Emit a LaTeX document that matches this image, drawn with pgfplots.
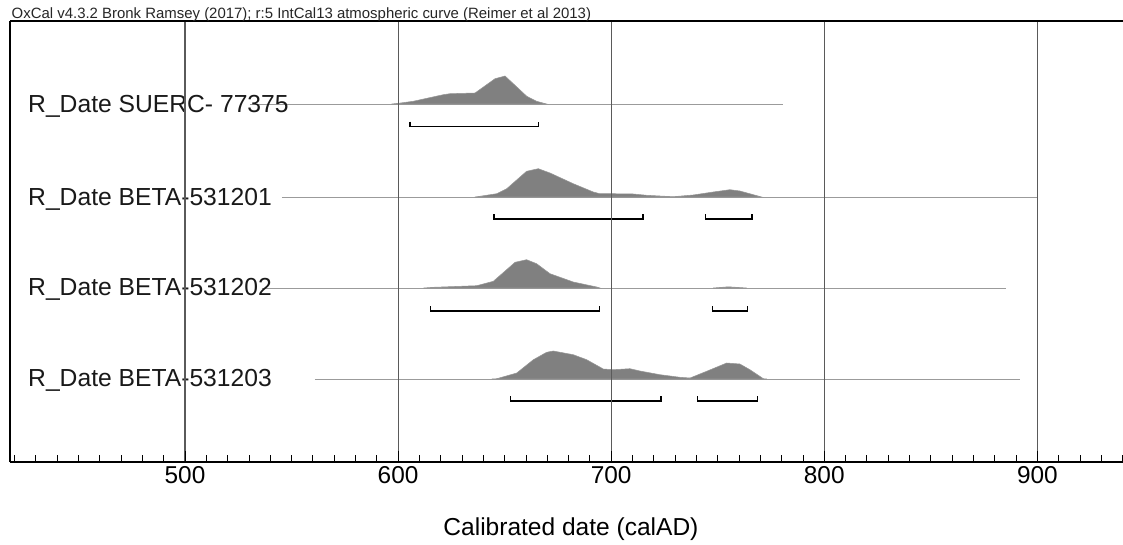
\documentclass[border=0pt]{standalone}
\usepackage{fontspec}
\setmainfont{Liberation Sans}
\usepackage{pgfplots}
\pgfplotsset{compat=1.18}
\definecolor{distfill}{RGB}{128,128,128}
\definecolor{distedge}{RGB}{150,150,150}
\definecolor{baseln}{RGB}{155,155,155}
\definecolor{gridc}{RGB}{90,90,90}

\begin{document}
\begin{tikzpicture}
\begin{axis}[
  scale only axis,
  width=834.75pt, height=330.75pt,
  xmin=417.88, xmax=940.2,
  ymin=0, ymax=441,
  axis x line=box, axis y line=left,
  axis line style={-, line width=1.2pt, black},
  xtick={500,600,700,800,900},
  minor xtick={420,430,...,940},
  ytick=\empty,
  xtick pos=bottom,
  tick align=inside,
  major tick length=8pt, minor tick length=5pt,
  every tick/.style={black, line width=0.6pt},
  xmajorgrids,
  major grid style={gridc, line width=0.8pt},
  axis on top,
  /pgf/number format/assume math mode=true,
  xticklabel style={font=\fontsize{18.3}{20}\selectfont, inner sep=0pt, yshift=-3pt},
  xlabel={Calibrated date (calAD)},
  xlabel style={font=\fontsize{18.4}{20}\selectfont, at={(rel axis cs:0.504,0)}, anchor=base, inner sep=0pt, yshift=-54.75pt},
  clip=false,
]
% baselines
\addplot[baseln, line width=0.7pt] coordinates {(530.5,358) (780.6,358)};
\addplot[baseln, line width=0.7pt] coordinates {(545.5,265) (900.3,265)};
\addplot[baseln, line width=0.7pt] coordinates {(536,174) (885.3,174)};
\addplot[baseln, line width=0.7pt] coordinates {(561,83) (891.8,83)};

% SUERC-77375
\addplot[fill=distfill, draw=distedge, line width=0.4pt] coordinates {
  (597,358) (600.1,358.7) (607.1,360.7) (621.2,367.3) (624.4,368.3) (636.1,369)
  (645.5,383.3) (650.2,386) (660.4,365.7) (665.0,360.7) (669.7,358)} -- cycle;
% BETA-531201
\addplot[fill=distfill, draw=distedge, line width=0.4pt] coordinates {
  (636,265) (638.4,265.7) (646.3,268.3) (651.0,273.3) (660.3,290.7) (665.8,293.3)
  (671.3,289) (682.2,278.3) (691.6,270) (694.7,268.3) (700.2,268.3) (710.4,268)
  (716.7,266.7) (729.1,265.3) (738.5,267) (747.9,270) (755.7,272.3) (760.4,271)
  (766.7,267.3) (770.6,265)} -- cycle;
% BETA-531202
\addplot[fill=distfill, draw=distedge, line width=0.4pt] coordinates {
  (612,174) (616.5,174.7) (636.9,176.3) (644.7,180.7) (654.9,199.7) (660.3,202.3)
  (665.0,198.3) (671.3,188.3) (682.2,180) (693.2,175) (694.7,174)} -- cycle;
\addplot[fill=distfill, draw=distedge, line width=0.4pt] coordinates {
  (747.9,174) (755,175.2) (763.6,174)} -- cycle;
% BETA-531203
\addplot[fill=distfill, draw=distedge, line width=0.4pt] coordinates {
  (644,83) (646.3,83.3) (655.7,89) (663.5,102.3) (669.7,109.7) (672.8,111)
  (682.2,107.3) (688.5,102.3) (696.3,93) (701.0,92.3) (708.8,93.3) (713.5,91)
  (722.9,87.3) (732.3,84.7) (737.0,84) (744.8,90.7) (754.2,99) (760.4,98)
  (765.1,92.3) (771.4,83.3) (773,83)} -- cycle;

% ranges
\addplot[black, line width=1.1pt] coordinates {(605.6,340.5) (605.6,335.5) (665.8,335.5) (665.8,340.5)};
\addplot[black, line width=1.1pt] coordinates {(645.0,248) (645.0,243) (714.9,243) (714.9,248)};
\addplot[black, line width=1.1pt] coordinates {(744.3,248) (744.3,243) (766.1,243) (766.1,248)};
\addplot[black, line width=1.1pt] coordinates {(615.3,156) (615.3,151) (694.4,151) (694.4,156)};
\addplot[black, line width=1.1pt] coordinates {(747.6,156) (747.6,151) (763.9,151) (763.9,156)};
\addplot[black, line width=1.1pt] coordinates {(652.8,66) (652.8,61) (723.4,61) (723.4,66)};
\addplot[black, line width=1.1pt] coordinates {(740.4,66) (740.4,61) (768.6,61) (768.6,66)};

% labels
\begin{scope}[every node/.style={anchor=base west, inner sep=0pt, font=\fontsize{18.5}{20}\selectfont, text=black!90}]
\node at (axis cs:426.3,349.3) {R\_Date SUERC- 77375};
\node at (axis cs:426.3,257) {R\_Date BETA-531201};
\node at (axis cs:426.3,167) {R\_Date BETA-531202};
\node at (axis cs:426.3,75.3) {R\_Date BETA-531203};
\end{scope}
\end{axis}
\node[anchor=base west, inner sep=0pt, font=\fontsize{11.2}{13}\selectfont, text=black!85] at (1.1pt,332.6pt)
  {OxCal v4.3.2 Bronk Ramsey (2017); r:5 IntCal13 atmospheric curve (Reimer et al 2013)};
\pgfresetboundingbox
\path[use as bounding box] (-7.5pt,-61.5pt) rectangle (834.75pt,346.5pt);
\end{tikzpicture}
\end{document}
